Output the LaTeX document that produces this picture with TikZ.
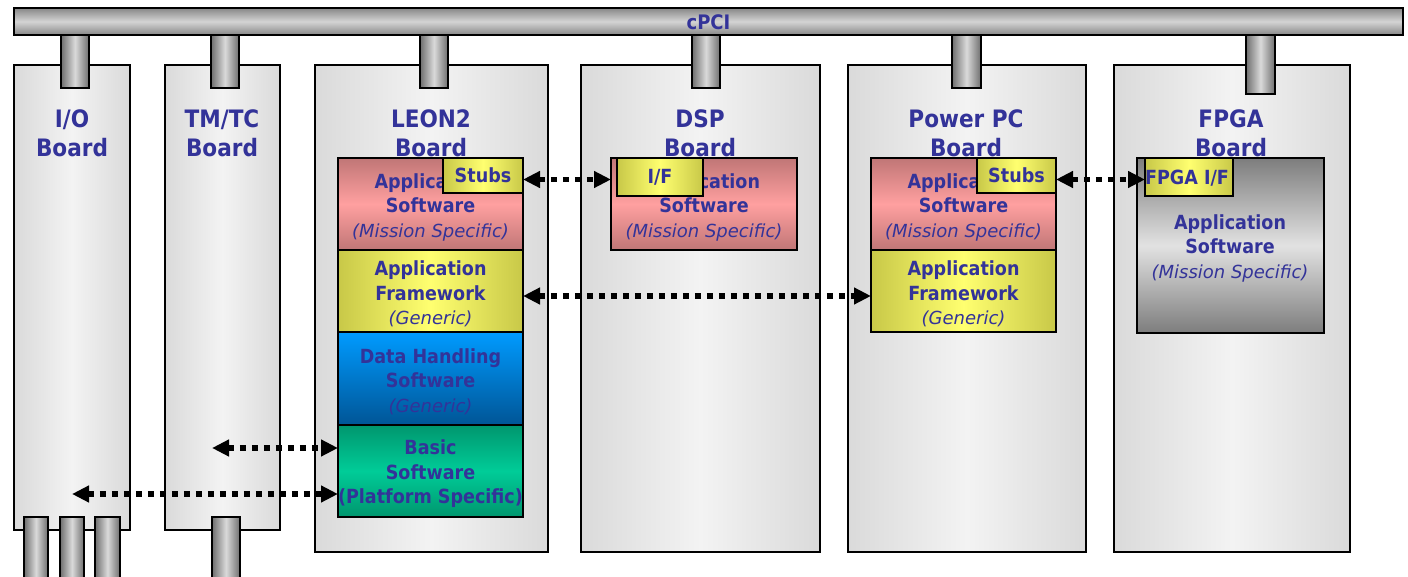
\documentclass[tikz,border=0pt]{standalone}
\usepackage{fontspec}
\usetikzlibrary{arrows.meta,calc,fit}
\newfontfamily\bfam{DejaVu Sans}[FakeStretch=0.9]
\newfontfamily\ifam{DejaVu Sans}

\definecolor{txt}{RGB}{51,51,153}
\definecolor{brdE}{RGB}{218,218,218}
\definecolor{brdM}{RGB}{243,243,243}
\definecolor{plugD}{RGB}{110,110,110}
\definecolor{plugL}{RGB}{218,218,218}
\definecolor{busD}{RGB}{135,135,135}
\definecolor{busL}{RGB}{212,212,212}
\definecolor{pinkD}{RGB}{192,118,118}
\definecolor{pinkL}{RGB}{255,160,160}
\definecolor{yelD}{RGB}{200,200,72}
\definecolor{yelL}{RGB}{255,255,112}
\definecolor{blueT}{RGB}{0,155,255}
\definecolor{blueB}{RGB}{0,85,150}
\definecolor{grnD}{RGB}{0,150,110}
\definecolor{grnL}{RGB}{0,204,152}
\definecolor{gryD}{RGB}{125,125,125}
\definecolor{gryL}{RGB}{226,226,226}

\newcommand\subnote[1]{{\ifam\mdseries\itshape\fontsize{18}{24.5}\selectfont #1}}

\tikzset{
  outl/.style={draw=black, line width=1.5pt, inner sep=0pt, outer sep=0pt},
  board/.style={outl, left color=brdE, right color=brdE, middle color=brdM},
  plug/.style={outl, line width=1.3pt, left color=plugD, right color=plugD, middle color=plugL},
  busbar/.style={outl, top color=busD, bottom color=busD, middle color=busL},
  boardtitle/.style={text=txt, align=center, inner sep=0pt,
    font=\bfam\bfseries\fontsize{24}{29}\selectfont},
  blk/.style={text=txt, align=center, inner sep=0pt,
    font=\bfam\bfseries\fontsize{19.5}{24.5}\selectfont},
  blktext/.style={blk, yshift=-3pt},
  pinkblk/.style={outl, top color=pinkD, bottom color=pinkD, middle color=pinkL},
  yelblk/.style={outl, left color=yelD, right color=yelD, middle color=yelL},
  blueblk/.style={outl, top color=blueT, bottom color=blueB},
  greenblk/.style={outl, top color=grnD, bottom color=grnD, middle color=grnL},
  greyblk/.style={outl, top color=gryD, bottom color=gryD, middle color=gryL},
  dotlink/.style={line width=5.5pt, dash pattern=on 6pt off 6pt,
    {Triangle[length=17pt,width=16pt]}-{Triangle[length=17pt,width=16pt]}},
}

\begin{document}
\begin{tikzpicture}[x=1pt,y=-1pt]
\useasboundingbox (0,0) rectangle (1408,577);
\clip (0,0) rectangle (1408,577);

% boards
\node[board, fit={(14,65) (130,530)}] (io) {};
\node[board, fit={(165,65) (280,530)}] (tmtc) {};
\node[board, fit={(315,65) (548,552)}] (leon) {};
\node[board, fit={(581,65) (820,552)}] (dsp) {};
\node[board, fit={(848,65) (1086,552)}] (ppc) {};
\node[board, fit={(1114,65) (1350,552)}] (fpga) {};

% backplane bus
\node[busbar, fit={(14,8) (1403,35)}] (bus) {};
\node[blk, font=\bfam\bfseries\fontsize{20}{24}\selectfont, yshift=-1pt] (bus-t) at (bus.center) {cPCI};

% bus connectors
\node[plug, fit={(61,35) (89,88)}] (io-c) {};
\node[plug, fit={(211,35) (239,88)}] (tmtc-c) {};
\node[plug, fit={(420,35) (448,88)}] (leon-c) {};
\node[plug, fit={(692,35) (720,88)}] (dsp-c) {};
\node[plug, fit={(952,35) (981,88)}] (ppc-c) {};
\node[plug, fit={(1246,35) (1275,94)}] (fpga-c) {};

% front connectors
\node[plug, fit={(24,517) (48,582)}] (io-f1) {};
\node[plug, fit={(60,517) (84,582)}] (io-f2) {};
\node[plug, fit={(95,517) (120,582)}] (io-f3) {};
\node[plug, fit={(212,517) (240,582)}] (tmtc-f) {};

% board titles
\node[boardtitle] (io-t) at (72,133) {I/O\\Board};
\node[boardtitle] (tmtc-t) at (222,133) {TM/TC\\Board};
\node[boardtitle] (leon-t) at (431,133) {LEON2\\Board};
\node[boardtitle] (dsp-t) at (700,133) {DSP\\Board};
\node[boardtitle] (ppc-t) at (966,133) {Power PC\\Board};
\node[boardtitle] (fpga-t) at (1231,133) {FPGA\\Board};

% LEON2 software stack
\node[pinkblk, fit={(338,158) (523,250)}] (lapp) {};
\node[blktext] (lapp-t) at (lapp.center) {Application\\Software\\\subnote{(Mission Specific)}};
\node[yelblk, fit={(338,250) (523,332)}] (lfw) {};
\node[blktext] (lfw-t) at (lfw.center) {Application\\Framework\\\subnote{(Generic)}};
\node[blueblk, fit={(338,332) (523,425)}] (ldh) {};
\node[blktext] (ldh-t) at (ldh.center) {Data Handling\\Software\\\subnote{(Generic)}};
\node[greenblk, fit={(338,425) (523,517)}] (lbas) {};
\node[blktext] (lbas-t) at (lbas.center) {Basic\\Software\\(Platform Specific)};
\node[yelblk, fit={(443,158) (523,193)}] (lstubs) {};
\node[blk] (lstubs-t) at (lstubs.center) {Stubs};

% DSP
\node[pinkblk, fit={(611,158) (797,250)}] (dapp) {};
\node[blktext] (dapp-t) at (dapp.center) {Application\\Software\\\subnote{(Mission Specific)}};
\node[yelblk, fit={(617,158) (703,196)}] (dif) {};
\node[blk] (dif-t) at (dif.center) {I/F};

% Power PC
\node[pinkblk, fit={(871,158) (1056,250)}] (papp) {};
\node[blktext] (papp-t) at (papp.center) {Application\\Software\\\subnote{(Mission Specific)}};
\node[yelblk, fit={(871,250) (1056,332)}] (pfw) {};
\node[blktext] (pfw-t) at (pfw.center) {Application\\Framework\\\subnote{(Generic)}};
\node[yelblk, fit={(977,158) (1056,193)}] (pstubs) {};
\node[blk] (pstubs-t) at (pstubs.center) {Stubs};

% FPGA
\node[greyblk, fit={(1137,158) (1324,333)}] (fapp) {};
\node[blk] (fapp-t) at (1230,248) {Application\\Software\\\subnote{(Mission Specific)}};
\node[yelblk, fit={(1145,158) (1233,196)}] (fif) {};
\node[blk] (fif-t) at (1187,178) {FPGA I/F};

% interfaces
\coordinate (tmtc-a) at (212,448);
\coordinate (io-a) at (72,494);
\draw[dotlink] ($(lstubs.east)+(0,4)$) -- ($(lstubs.east -| dapp.west)+(0,4)$);
\draw[dotlink] ($(lfw.east)+(0,5)$) -- ($(pfw.west)+(0,5)$);
\draw[dotlink] ($(pstubs.east)+(0,4)$) -- ($(pstubs.east -| fif.west)+(0,4)$);
\draw[dotlink] (tmtc-a) -- (tmtc-a -| lbas.west);
\draw[dotlink] (io-a) -- (io-a -| lbas.west);
\end{tikzpicture}
\end{document}
